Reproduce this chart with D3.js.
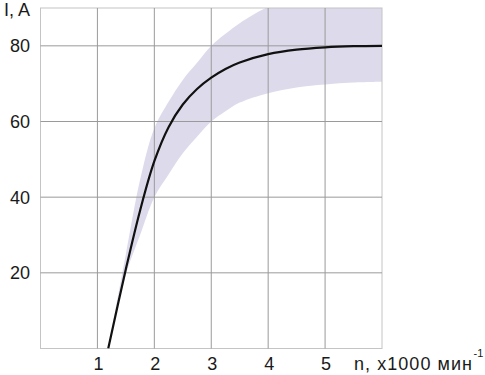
<!DOCTYPE html>
<html>
<head>
<meta charset="utf-8">
<script src="https://cdn.jsdelivr.net/npm/d3@7"></script>
<style>
  html, body { margin: 0; padding: 0; background: #fff; }
  svg { display: block; }
  text { font-family: Arial, "Liberation Sans", Helvetica, sans-serif; fill: #1a1a1a; }
</style>
</head>
<body>
<script>
// Data
const nValues      = [1.19, 1.5, 1.75, 2.0, 2.25, 2.5, 2.75, 3.0, 3.25, 3.5, 4.0, 4.5, 5.0, 5.5, 6.0];
const currentMean  = [0, 21, 36.5, 49.5, 58.5, 64.5, 68.6, 71.6, 73.9, 75.6, 77.8, 79.0, 79.6, 79.9, 80];
const currentLower = [0, 19.5, 30, 40, 46, 51.6, 56, 60, 62.7, 65, 67.5, 69, 69.8, 70.3, 70.5];
const currentUpper = [0, 25, 44.6, 58.2, 65.2, 71, 75.5, 80, 83.2, 86, 90.3, 92.5, 94, 95, 96];
const xTicks = [1, 2, 3, 4, 5];
const yTicks = [20, 40, 60, 80];
const yAxisTitle = "I, A";
const xAxisTitle = "n, x1000 мин";
const xAxisTitleSup = "-1";

const W = 485, H = 375;
const svg = d3.select("body").append("svg").attr("width", W).attr("height", H);

const x = d3.scaleLinear().domain([0, 6]).range([40.5, 382]);
const y = d3.scaleLinear().domain([0, 90]).range([348.5, 8]);

const data = nValues.map((n, i) => ({ n, m: currentMean[i], lo: currentLower[i], hi: currentUpper[i] }));
const curve = d3.curveCatmullRom.alpha(0.5);

svg.append("clipPath").attr("id", "plotclip")
  .append("rect")
  .attr("x", x(0)).attr("y", y(90))
  .attr("width", x(6) - x(0)).attr("height", y(0) - y(90));

// band
svg.append("path")
  .datum(data)
  .attr("clip-path", "url(#plotclip)")
  .attr("fill", "#dddbeb")
  .attr("d", d3.area().x(d => x(d.n)).y0(d => y(d.lo)).y1(d => y(d.hi)).curve(curve));

// frame
svg.append("rect")
  .attr("x", x(0)).attr("y", y(90))
  .attr("width", x(6) - x(0)).attr("height", y(0) - y(90))
  .attr("fill", "none").attr("stroke", "#c4c4c4").attr("stroke-width", 1);

// grid
const grid = svg.append("g");
grid.selectAll("line.v").data(xTicks).join("line").attr("class", "v")
  .attr("x1", d => x(d)).attr("x2", d => x(d))
  .attr("y1", y(90)).attr("y2", y(0))
  .attr("stroke", "#9a9a9a").attr("stroke-width", 1);
grid.selectAll("line.h").data(yTicks).join("line").attr("class", "h")
  .attr("y1", d => y(d)).attr("y2", d => y(d))
  .attr("x1", x(0)).attr("x2", x(6))
  .attr("stroke", "#9a9a9a").attr("stroke-width", 1);

// mean curve
svg.append("path")
  .datum(data)
  .attr("clip-path", "url(#plotclip)")
  .attr("fill", "none").attr("stroke", "#111").attr("stroke-width", 2.2)
  .attr("d", d3.line().x(d => x(d.n)).y(d => y(d.m)).curve(curve));

// y tick labels
svg.selectAll("text.yt").data(yTicks).join("text").attr("class", "yt")
  .attr("x", 30).attr("y", d => y(d)).attr("dy", "0.36em")
  .attr("text-anchor", "end").attr("font-size", 18)
  .text(d => d);

// x tick labels
svg.selectAll("text.xt").data(xTicks).join("text").attr("class", "xt")
  .attr("x", d => x(d) + 1).attr("y", 369.5)
  .attr("text-anchor", "middle").attr("font-size", 18)
  .text(d => d);

// axis titles
svg.append("text").attr("x", 30).attr("y", 15.5).attr("text-anchor", "end")
  .attr("font-size", 18).text(yAxisTitle);

svg.append("text").attr("x", 354).attr("y", 369.5)
  .attr("font-size", 18).attr("textLength", 118).attr("lengthAdjust", "spacing")
  .text(xAxisTitle);
svg.append("text").attr("x", 473.5).attr("y", 357)
  .attr("font-size", 11).text(xAxisTitleSup);
</script>
</body>
</html>
